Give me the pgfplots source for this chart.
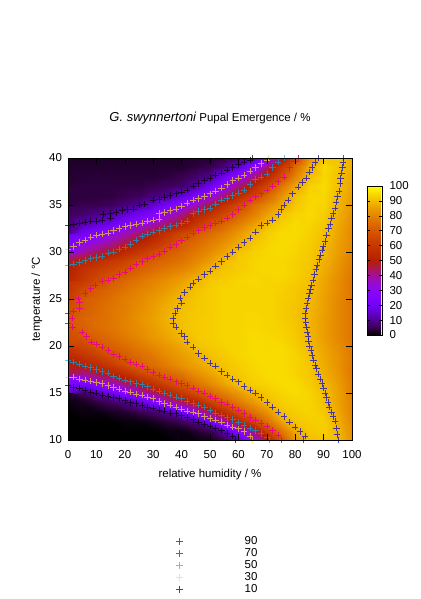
\documentclass[border=0pt]{standalone}
\usepackage{fontspec}
\setmainfont{Liberation Sans}
\usepackage{pgfplots}
\pgfplotsset{compat=1.18}
\begin{document}
\begin{tikzpicture}
\path[use as bounding box] (0,0) rectangle (420pt,599pt);
\begin{axis}[
  at={(68pt,159pt)},anchor=south west,scale only axis,width=284pt,height=282pt,
  xmin=0,xmax=100,ymin=10,ymax=40,
  xtick={0,10,...,100},ytick={10,15,...,40},
  tick align=inside,major tick length=6pt,tick style={black,line width=0.4pt},
  axis line style={black,line width=0.5pt},
  axis on top,clip mode=individual,
  every tick label/.append style={font=\fontsize{11.5}{13}\selectfont},
  /pgf/number format/assume math mode=true,
  xticklabel style={yshift=-7pt},
  yticklabel style={xshift=-2.5pt},
  xlabel={relative humidity / \%},ylabel={temperature / °C},
  xlabel style={font=\fontsize{11.5}{13}\selectfont,yshift=-4pt},
  ylabel style={font=\fontsize{11.5}{13}\selectfont},
  title={\fontsize{13}{15}\selectfont\itshape G. swynnertoni\upshape\fontsize{11.5}{13}\selectfont\ Pupal Emergence / \%},
  title style={yshift=24pt},
  colormap={gp}{rgb=(0,0,0) rgb=(.224,0,.309) rgb=(.316,.001,.588) rgb=(.387,.003,.809) rgb=(.447,.008,.951) rgb=(.5,.016,1) rgb=(.548,.027,.951) rgb=(.592,.043,.809) rgb=(.632,.064,.588) rgb=(.671,.091,.309) rgb=(.707,.125,0) rgb=(.742,.166,0) rgb=(.775,.216,0) rgb=(.806,.275,0) rgb=(.837,.343,0) rgb=(.866,.422,0) rgb=(.894,.512,0) rgb=(.922,.614,0) rgb=(.949,.729,0) rgb=(.975,.857,0) rgb=(1,1,0)},
  point meta min=0,point meta max=100,
  colorbar,
  colorbar shift/.style={xshift=15pt,yshift=105pt},
  colorbar style={
    at={(parent axis.south east)},anchor=south west,
    scale only axis,width=15pt,height=149pt,
    ytick={0,10,...,100},ytick pos=both,yticklabel pos=right,
    tick align=inside,major tick length=3pt,
    every tick label/.append style={font=\fontsize{11.5}{13}\selectfont},
    /pgf/number format/assume math mode=true,
    yticklabel style={xshift=4pt},
  },
  legend style={at={(0.37,-0.335)},anchor=north west,draw=none,fill=none,
    font=\fontsize{11.5}{13}\selectfont,row sep=2.5pt,
    nodes={inner sep=0pt,text height=7.5pt,text depth=2pt}},
  legend cell align=left,
  legend image code/.code={\draw[#1] plot coordinates {(3pt,0pt)};\path (68pt,0pt);},
]
\addplot[surf,shader=interp,mesh/cols=21,point meta=explicit,forget plot] table[row sep=\\,header=false,
  x expr={mod(\coordindex,21)*5},y expr={10+floor(\coordindex/21)},meta index=0]{
0\\0\\0\\0\\0\\0\\0\\0\\1\\1\\2\\5\\12\\30\\48\\68\\83\\90.5\\91.5\\90\\83\\
0\\0\\0\\0\\0\\0\\0\\1\\1\\3\\5\\12\\26\\42\\63\\77\\87\\92\\93\\89\\82\\
0\\0\\0\\0\\1\\1\\2\\4\\6\\10\\22\\37\\53\\65\\76\\86\\91.5\\93\\93\\88\\81\\
0\\1\\1\\2\\3\\5\\7\\10\\20\\32\\45\\56\\67\\76\\83\\91\\93\\94\\92\\87\\80\\
1\\2\\4\\6\\9\\15\\24\\34\\44\\53\\63\\71\\78\\84\\90\\93\\94\\94\\91\\86\\80\\
3\\6\\11\\19\\27\\33\\42\\52\\60\\67\\73\\79\\84\\89\\92\\94\\95\\94\\90.5\\86\\79\\
14\\21\\27\\34\\42\\50\\57\\64\\70\\76\\81\\86\\91\\93\\94\\95\\95\\93\\89.5\\85\\79\\
34\\40\\45\\50\\56\\63\\69\\73\\77\\82\\86\\90\\92\\94\\95\\95\\94\\92\\88\\84\\78\\
44\\50\\55\\61\\67\\72\\75\\79\\83\\86\\89\\91.5\\93\\94.5\\95\\95\\94\\92\\87.5\\83\\78\\
54\\59\\63\\68\\71\\75\\78\\82\\85\\88\\91\\92.5\\94\\95\\95\\95\\94\\91\\87\\83\\78\\
60\\64\\69\\72\\75\\78\\81\\84\\87\\91\\92.5\\93.5\\94\\95\\95\\95\\93\\90\\86\\82\\78\\
64\\69\\72\\75\\78\\81\\84\\86.5\\89.5\\92\\93\\94\\94\\95\\94.5\\94\\92.5\\89.5\\85\\81\\77\\
69\\72\\75\\77\\80\\82\\85\\88\\91\\92.5\\93\\94\\94\\94.5\\94\\93.5\\92\\89\\85\\81\\77\\
70\\73\\75\\77\\80\\83\\85.5\\88.5\\91\\92.5\\93\\94\\94\\94.5\\94\\93\\91.5\\89\\85\\81\\77\\
67\\71\\74\\77\\79\\82\\85\\88\\91\\92\\93\\94\\94\\94\\94\\93\\91.5\\89.5\\85.5\\81\\77\\
65\\70.5\\73\\76\\79\\81\\84\\87\\90\\92\\93\\94\\94\\94\\94\\93\\92\\90\\85.5\\81\\77\\
61\\66\\71\\74\\77\\80\\82\\85\\88\\91.5\\93\\94\\94\\94\\94\\93.5\\92\\90.5\\86\\82\\77\\
57\\60\\65\\70.5\\74\\77\\80\\82.5\\85.5\\89\\92\\93\\94\\94.5\\94\\94\\93\\91\\86.5\\82\\77\\
53\\58\\62\\66\\69.5\\73\\76\\78.5\\81.5\\85\\90\\92\\93\\94\\94.5\\94.5\\93.5\\91.5\\87.5\\83\\78\\
47\\52\\56\\60\\64\\69\\72\\74.5\\77\\81\\85\\90.5\\92.5\\94\\94.5\\94.5\\93.5\\92\\88.5\\84\\79\\
34\\39\\44\\49.5\\55\\60\\66\\71\\74\\78\\82\\86\\91.5\\93.5\\94.5\\95\\94\\92.5\\89.5\\85\\80\\
25\\30.5\\35\\40\\46\\52\\58\\64\\71\\75\\79\\83\\87.5\\92\\94\\95\\94.5\\93\\90\\85.5\\81\\
17\\20\\25\\31\\37\\43\\51\\58\\65\\70.5\\75\\79\\84\\89.5\\93\\95\\95\\93.5\\91\\86.5\\81\\
9.5\\12\\15\\19\\25\\31\\37\\44\\51\\60\\68\\74\\79\\85\\90.5\\93.5\\95\\94\\92\\87\\82\\
6\\7\\9\\11\\15\\20\\26\\33\\41\\52\\58\\66\\72.5\\79\\85.5\\91.5\\94\\95\\93\\88\\83\\
5\\5\\5\\6\\8\\10\\15\\22\\29\\37\\48\\58\\66\\75\\81\\87\\92\\94.5\\94\\89\\84\\
4\\4\\4\\4\\5\\6\\8\\10\\16\\23\\31\\43\\55\\65\\74\\83\\91\\94.5\\94.5\\90\\85\\
4\\4\\4\\4\\4\\4\\5\\6\\7\\11\\19\\30\\42\\54\\66\\77\\87\\93.5\\95\\91\\86\\
3.5\\3.5\\3.5\\3.5\\3.5\\3.5\\3.5\\4\\5\\7\\10\\20\\29\\42\\55\\68\\80\\91\\94.5\\91\\87\\
3\\3\\3\\3\\3\\3\\3\\3\\3\\4\\5\\8\\15\\27\\43\\60\\75\\87.5\\95\\92\\88\\
2.5\\2.5\\2.5\\2.5\\2.5\\2.5\\2.5\\2.5\\2.5\\3\\3\\4\\6\\10\\27\\46\\66\\83\\92\\92\\88\\
};
% 90 contour
\addplot[only marks,mark=+,mark size=3.2pt,color=blue!85!black,line width=0.45pt,opacity=0.7] coordinates {
(83,10)(83.4,10.4)(81.7,10.9)(80,11.4)(78,11.9)(76,12.5)(74,13)(72,13.5)(70,14)(68,14.5)(66,15)(64,15.3)(62,15.7)(60,16.2)(58,16.5)(56,16.9)(54,17.3)(52,17.9)(50,18.2)(48,18.7)(46,19.2)(44,19.9)(42,20.4)(41,21)(39.8,21.4)(38,22)(37,22.4)(37,23)(37.7,23.5)(38.5,24)(40,24.6)(39.5,25.1)(41,25.7)(43,26.3)(44,26.7)(46,27.1)(48,27.6)(50,28)(52,28.5)(54,29)(56,29.5)(58,30)(60,30.5)(62,31)(64,31.5)(66,32.1)(68,32.8)(70,33.1)(72,33.4)(74,34)(75,34.5)(76,35)(77.4,35.5)(79,36.2)(81,36.9)(82.5,37.4)(84,37.9)(85,38.5)(86,39)(87,39.5)(88,40)
(95,10)(94.8,10.6)(94.6,11.3)(94,12)(93.3,12.5)(92.8,13)(92,13.5)(91.5,14)(91,14.5)(90.5,15)(90,15.5)(89.5,16)(88.8,16.5)(88,17)(87.5,17.6)(87,18)(86.5,18.5)(86,19)(85.5,19.5)(85,20)(84.7,20.5)(84.5,21)(84.2,21.5)(84,22)(83.7,22.5)(83.5,23)(83.5,23.5)(83.8,24)(84.2,24.6)(84.6,25.1)(85,25.6)(85.4,26)(85.8,26.5)(86.2,27)(86.8,27.6)(87.3,28.2)(87.7,28.6)(88.3,29.2)(88.9,29.7)(89.5,30.2)(89.8,30.6)(90.4,31.1)(91,31.8)(91.7,32.5)(92.3,33)(92.8,33.6)(93.4,34.1)(94,34.7)(94.4,35.3)(94.9,35.9)(95.4,36.5)(95.8,37.3)(96,37.8)(96.3,38.4)(96.6,39)(96.8,39.5)(97,40)
};
\addlegendentry{90}
% 70 contour
\addplot[only marks,mark=+,mark size=3.2pt,color=magenta,line width=0.45pt,opacity=0.9] coordinates {
(0,22.4)(1.4,23)(0,23.5)(2,23.7)(4,24)(4,24.7)(3.6,25.1)(6,25.6)(8,26.1)(9.5,26.5)(12,26.9)(14,27)(16,27.2)(18,27.6)(20,27.9)(22,28.3)(24,28.7)(26,29)(28,29.3)(30,29.5)(32,29.8)(34,30.1)(36,30.5)(38,30.8)(40,31.2)(42,31.6)(44,32)(46,32.3)(48,32.6)(50,32.8)(52,33.1)(54,33.3)(56,33.6)(58,34)(60,34.5)(62,35)(64,35.5)(66,35.9)(68,36.2)(70,36.6)(72,37)(74,37.5)(76,38)(78,39)(80,39.7)(81,40)
(1.6,22)(5,21.5)(6.5,21)(8.3,20.4)(10,20.2)(12,19.9)(14,19.5)(16,19.1)(18,18.9)(20,18.6)(22,18.3)(24,18.1)(26,17.9)(28,17.5)(30,17.2)(32,16.9)(34,16.7)(36,16.5)(38,16.2)(40,16)(42,15.8)(44,15.5)(46,15.2)(48,15)(50,14.7)(52,14.4)(54,14)(56,13.8)(58,13.5)(60,13.2)(62,12.8)(64,12.4)(66,12.1)(68,11.8)(70,11.5)(72,11)(74,10.5)(75,10)
};
\addlegendentry{70}
% 50 contour
\addplot[only marks,mark=+,mark size=3.2pt,color=cyan,line width=0.45pt,opacity=0.65] coordinates {
(0,28.6)(2,28.7)(4,28.9)(6,29.1)(8,29.3)(10,29.4)(12,29.6)(14,29.9)(16,30)(18,30.3)(20,30.5)(22,30.8)(24,31.3)(26,31.7)(28,31.9)(30,32.1)(32,32.3)(34,32.5)(36,32.7)(38,32.9)(40,33.1)(42,33.3)(44,34.1)(46,34.3)(48,34.5)(50,34.7)(52,35.1)(54,35.5)(56,35.7)(58,36)(60,36.3)(62,36.6)(64,37.2)(66,37.7)(68,38)(70,38.3)(72,39)(74,39.6)(76,40)
(0,18.5)(2,18.3)(4,18.1)(6,17.9)(8,17.7)(10,17.5)(12,17.3)(14,17.1)(16,16.8)(18,16.6)(20,16.4)(22,16.2)(24,16)(26,15.9)(28,15.7)(30,15.4)(32,15.2)(34,15)(36,14.8)(38,14.6)(40,14.4)(42,14.1)(44,13.9)(46,13.7)(48,13.5)(50,13.2)(52,12.9)(54,12.6)(56,12.4)(58,12.2)(60,11.9)(62,11.6)(64,11.3)(66,11)(68,10.7)(70,10.3)(71,10)
};
\addlegendentry{50}
% 30 contour
\addplot[only marks,mark=+,mark size=3.2pt,color=yellow!90!orange,line width=0.45pt,opacity=0.65] coordinates {
(0,30.3)(2,30.6)(4,31)(6,31.3)(8,31.6)(10,31.8)(12,31.9)(14,32)(16,32.3)(18,32.5)(20,32.7)(22,32.8)(24,33)(26,33.1)(28,33.3)(30,33.4)(32,33.5)(32,34.1)(34,34.2)(36,34.4)(38,34.6)(40,34.9)(42,35.2)(44,35.5)(46,35.7)(48,35.9)(50,36.2)(52,36.5)(54,36.8)(56,37.2)(58,37.6)(60,37.9)(62,38.2)(64,38.6)(66,39)(68,39.4)(70,39.8)(70.5,40)
(0,16.7)(2,16.7)(4,16.5)(6,16.4)(8,16.3)(10,16.1)(12,16)(14,15.8)(16,15.6)(18,15.4)(20,15.2)(22,15.1)(24,14.9)(26,14.8)(28,14.6)(30,14.4)(32,14.1)(34,13.9)(36,13.7)(38,13.5)(40,13.3)(42,13.1)(44,13)(46,12.8)(48,12.5)(50,12.3)(52,12.1)(54,11.9)(56,11.6)(58,11.4)(60,11.2)(62,10.9)(64,10.4)(65,10)
};
\addlegendentry{30}
% 10 contour
\addplot[only marks,mark=+,mark size=3.2pt,color=black,line width=0.45pt,opacity=0.7] coordinates {
(0,32.9)(2,33)(4,33.1)(6,33.2)(8,33.3)(10,33.3)(12,33.4)(15,33.6)(12.4,34)(15,34.1)(17,34.2)(19,34.4)(21,34.5)(23,34.6)(25,35)(27,35.1)(30,35.5)(32,35.6)(34,35.8)(36,36)(38,36.2)(40,36.4)(42,36.6)(44,37)(46,37.3)(48,37.6)(50,37.9)(52,38.2)(54,38.4)(56,38.7)(58,39)(60,39.3)(62,39.6)(64,39.8)(65,40)
(0,15.8)(2,15.6)(4,15.5)(6,15.3)(8,15.1)(10,15)(12,14.8)(14,14.7)(16,14.5)(18,14.4)(20,14.2)(22,14)(24,13.9)(26,13.7)(28,13.5)(30,13.4)(32,13.2)(34,13.1)(36,12.9)(38,12.8)(40,12.6)(42,12.4)(44,12.2)(46,11.9)(48,11.7)(50,11.5)(52,11.3)(54,11)(56,10.7)(58,10.4)(59,10)
};
\addlegendentry{10}
\end{axis}
\end{tikzpicture}
\end{document}
